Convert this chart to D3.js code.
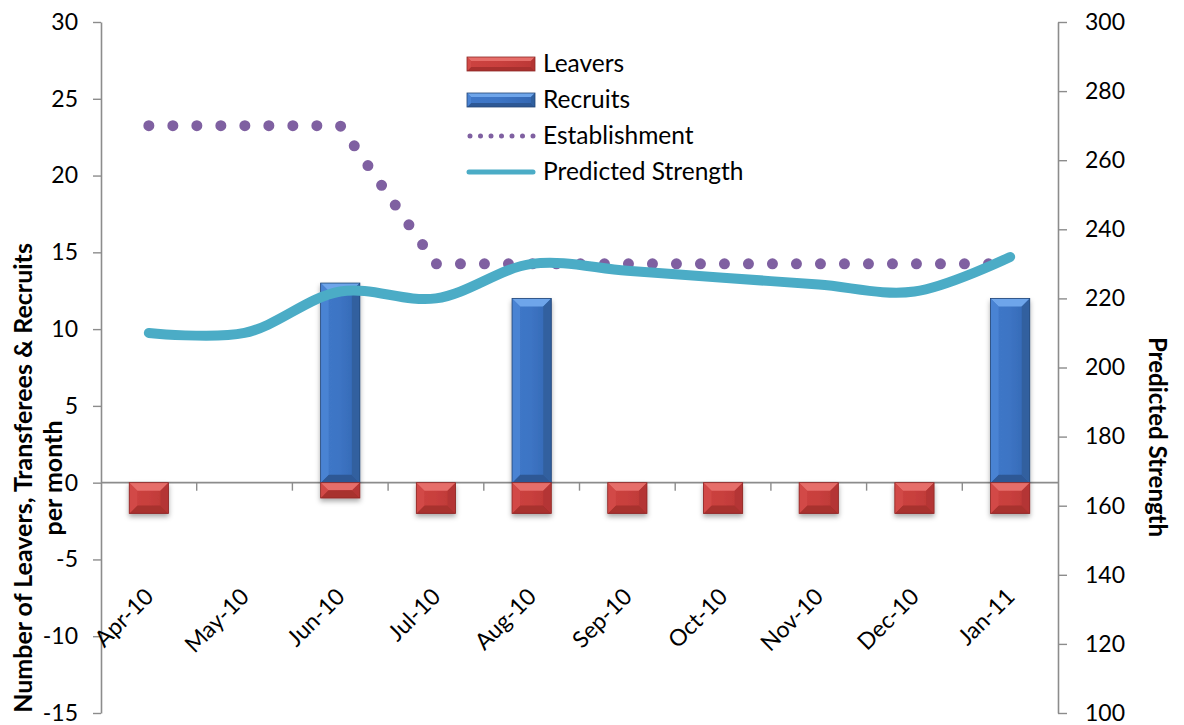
<!DOCTYPE html>
<html>
<head>
<meta charset="utf-8">
<script src="https://cdn.jsdelivr.net/npm/d3@7"></script>
<style>
  html, body { margin: 0; padding: 0; background: #ffffff; }
  svg { display: block; font-family: Lato, "Open Sans", sans-serif; }
</style>
</head>
<body>
<svg id="chart" width="1184" height="725"></svg>
<script>
// Monthly movements (left axis) and headcount (right axis)
const months = ["Apr-10", "May-10", "Jun-10", "Jul-10", "Aug-10", "Sep-10", "Oct-10", "Nov-10", "Dec-10", "Jan-11"];
const leavers = [-2, 0, -1, -2, -2, -2, -2, -2, -2, -2];
const recruits = [0, 0, 13, 0, 12, 0, 0, 0, 0, 12];
const establishment = [270, 270, 270, 230, 230, 230, 230, 230, 230, 230];
const predictedStrength = [210, 210, 222, 220, 230, 228, 226, 224, 222, 232];
const leftTicks = [-15, -10, -5, 0, 5, 10, 15, 20, 25, 30];
const rightTicks = [100, 120, 140, 160, 180, 200, 220, 240, 260, 280, 300];

const svg = d3.select("#chart");
const plot = { left: 101, right: 1058, top: 22, bottom: 713 };
const axisColor = "#8c8c8c";

const x = d3.scaleBand().domain(months).range([plot.left, plot.right]).padding(0);
const cx = m => x(m) + x.bandwidth() / 2;
const yL = d3.scaleLinear().domain([-15, 30]).range([plot.bottom, plot.top]);
const yR = d3.scaleLinear().domain([100, 300]).range([plot.bottom, plot.top]);
const barW = x.bandwidth() * 0.41;

// ---- defs: bar shadow and body gradients ----
const defs = svg.append("defs");
const shadow = defs.append("filter").attr("id", "barShadow")
  .attr("x", "-30%").attr("y", "-30%").attr("width", "160%").attr("height", "160%");
shadow.append("feDropShadow").attr("dx", 0).attr("dy", 3).attr("stdDeviation", 2.5)
  .attr("flood-color", "#000").attr("flood-opacity", 0.33);

function hGradient(id, stops) {
  const g = defs.append("linearGradient").attr("id", id).attr("x1", 0).attr("x2", 1).attr("y1", 0).attr("y2", 0);
  stops.forEach(([o, c]) => g.append("stop").attr("offset", o).attr("stop-color", c));
}
hGradient("redBody", [[0, "#cc4340"], [0.5, "#c83f3d"], [1, "#bb3836"]]);
hGradient("blueBody", [[0, "#4078c8"], [0.45, "#3d75c5"], [1, "#3467b2"]]);

const palettes = {
  red:  { body: "url(#redBody)", top: "#e66e6a", left: "#d24a47", right: "#b43634", bottom: "#a8302e", edge: "#8e2826" },
  blue: { body: "url(#blueBody)", top: "#6ea5ea", left: "#4a83d3", right: "#30609f", bottom: "#2d5895", edge: "#234677" }
};

// bevelled bar: body plus four edge facets
function bevelBar(g, x0, y0, w, h, pal, bMax) {
  const x1 = x0 + w, y1 = y0 + h;
  const b = Math.min(bMax, h / 2, w / 2);
  const grp = g.append("g");
  grp.append("rect").attr("x", x0).attr("y", y0).attr("width", w).attr("height", h).attr("fill", pal.body);
  const facet = (pts, fill) => grp.append("polygon").attr("points", pts.map(p => p.join(",")).join(" ")).attr("fill", fill);
  facet([[x0, y0], [x1, y0], [x1 - b, y0 + b], [x0 + b, y0 + b]], pal.top);
  facet([[x0, y1], [x1, y1], [x1 - b, y1 - b], [x0 + b, y1 - b]], pal.bottom);
  facet([[x0, y0], [x0 + b, y0 + b], [x0 + b, y1 - b], [x0, y1]], pal.left);
  facet([[x1, y0], [x1 - b, y0 + b], [x1 - b, y1 - b], [x1, y1]], pal.right);
  grp.append("rect").attr("x", x0).attr("y", y0).attr("width", w).attr("height", h)
    .attr("fill", "none").attr("stroke", pal.edge).attr("stroke-width", 0.8);
  return grp;
}

// ---- axes ----
const hyphenFormat = d => String(d);
const leftAxis = svg.append("g").attr("transform", `translate(${plot.left},0)`)
  .call(d3.axisLeft(yL).tickValues(leftTicks).tickFormat(hyphenFormat).tickSize(8).tickSizeOuter(0).tickPadding(15));
const rightAxis = svg.append("g").attr("transform", `translate(${plot.right},0)`)
  .call(d3.axisRight(yR).tickValues(rightTicks).tickFormat(hyphenFormat).tickSize(9).tickSizeOuter(0).tickPadding(18));
[leftAxis, rightAxis].forEach(a => {
  a.select(".domain").attr("stroke", axisColor).attr("stroke-width", 1.6);
  a.selectAll(".tick line").attr("stroke", axisColor).attr("stroke-width", 1.4);
  a.selectAll(".tick text").attr("font-size", 23).attr("fill", "#000").attr("font-family", "Lato, sans-serif");
});

// category axis along zero
const y0 = yL(0);
const catAxis = svg.append("g");
catAxis.append("line").attr("x1", plot.left).attr("x2", plot.right).attr("y1", y0).attr("y2", y0)
  .attr("stroke", axisColor).attr("stroke-width", 1.6);
catAxis.selectAll("line.tick").data(d3.range(1, months.length)).join("line")
  .attr("class", "tick")
  .attr("x1", i => plot.left + i * x.step()).attr("x2", i => plot.left + i * x.step())
  .attr("y1", y0).attr("y2", y0 + 8)
  .attr("stroke", axisColor).attr("stroke-width", 1.4);
catAxis.selectAll("text").data(months).join("text")
  .attr("transform", m => `translate(${cx(m) + 6},598) rotate(-45)`)
  .attr("text-anchor", "end")
  .attr("font-size", 23)
  .attr("fill", "#000")
  .text(m => m);

// ---- bars ----
const bars = svg.append("g").attr("filter", "url(#barShadow)");
months.forEach((m, i) => {
  if (recruits[i] !== 0) {
    const top = yL(Math.max(0, recruits[i])), bot = yL(Math.min(0, recruits[i]));
    bevelBar(bars, cx(m) - barW / 2, top, barW, bot - top, palettes.blue, 8);
  }
});
months.forEach((m, i) => {
  if (leavers[i] !== 0) {
    const top = yL(Math.max(0, leavers[i])), bot = yL(Math.min(0, leavers[i]));
    bevelBar(bars, cx(m) - barW / 2, top, barW, bot - top, palettes.red, 8);
  }
});

// ---- lines (right axis) ----
const estLine = d3.line().x((d, i) => cx(months[i])).y(d => yR(d));
svg.append("path").datum(establishment)
  .attr("d", estLine)
  .attr("fill", "none").attr("stroke", "#7f60a1").attr("stroke-width", 11)
  .attr("stroke-linecap", "round").attr("stroke-dasharray", "0,24");

const strengthLine = d3.line().x((d, i) => cx(months[i])).y(d => yR(d)).curve(d3.curveCatmullRom.alpha(0.5));
svg.append("path").datum(predictedStrength)
  .attr("d", strengthLine)
  .attr("fill", "none").attr("stroke", "#4bacc6").attr("stroke-width", 10)
  .attr("stroke-linecap", "round").attr("stroke-linejoin", "round");

// ---- axis titles ----
const leftTitle = svg.append("text")
  .attr("transform", "translate(32,478) rotate(-90)")
  .attr("text-anchor", "middle").attr("font-size", 25).attr("font-weight", "bold").attr("fill", "#000");
leftTitle.append("tspan").attr("x", 0).attr("dy", 0).text("Number of Leavers, Transferees & Recruits");
leftTitle.append("tspan").attr("x", 0).attr("dy", 30).text("per month");

svg.append("text")
  .attr("transform", "translate(1149,437) rotate(90)")
  .attr("text-anchor", "middle").attr("font-size", 24).attr("font-weight", "bold").attr("fill", "#000")
  .text("Predicted Strength");

// ---- legend ----
const legendItems = ["Leavers", "Recruits", "Establishment", "Predicted Strength"];
const legend = svg.append("g");
const lx0 = 467, lx1 = 535, ly = [64, 100, 136, 172];
bevelBar(legend, lx0, ly[0] - 7, lx1 - lx0, 14, palettes.red, 4);
bevelBar(legend, lx0, ly[1] - 7, lx1 - lx0, 14, palettes.blue, 4);
legend.append("line").attr("x1", lx0 + 3).attr("x2", lx1).attr("y1", ly[2]).attr("y2", ly[2])
  .attr("stroke", "#7f60a1").attr("stroke-width", 5).attr("stroke-linecap", "round").attr("stroke-dasharray", "0,10.5");
legend.append("line").attr("x1", lx0 + 2).attr("x2", lx1 - 2).attr("y1", ly[3]).attr("y2", ly[3])
  .attr("stroke", "#4bacc6").attr("stroke-width", 5).attr("stroke-linecap", "round");
legend.selectAll("text").data(legendItems).join("text")
  .attr("x", 543).attr("y", (d, i) => ly[i] + 8)
  .attr("font-size", 24.5).attr("fill", "#000")
  .text(d => d);
</script>
</body>
</html>
